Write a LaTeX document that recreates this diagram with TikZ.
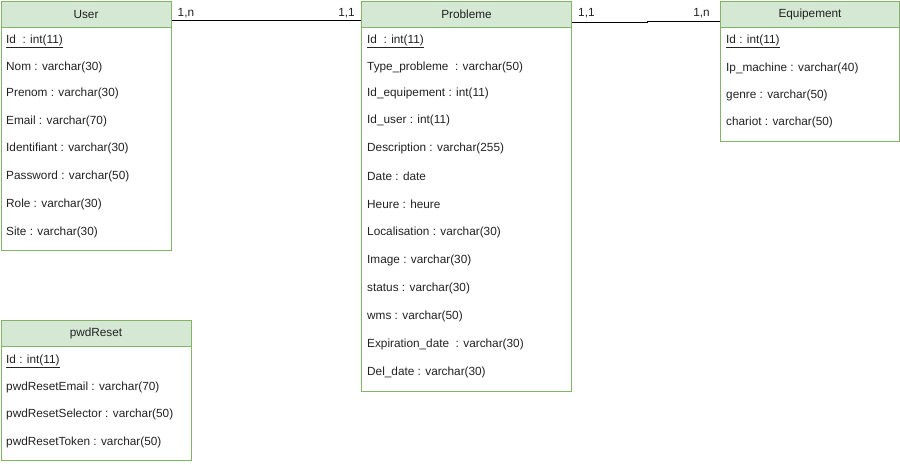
\documentclass[tikz,border=0pt]{standalone}
\usepackage{fontspec}
\setmainfont{Liberation Sans}
\usetikzlibrary{positioning,calc}
\definecolor{headgreen}{HTML}{D5E8D4}
\definecolor{linegreen}{HTML}{82B366}
\definecolor{textgrey}{HTML}{222222}

\tikzset{
  tablebox/.style={draw=linegreen, line width=1pt, fill=white, anchor=north west, inner sep=0pt},
  tablehead/.style={draw=linegreen, line width=1pt, fill=headgreen, anchor=north west,
    inner sep=0pt, minimum height=26pt, text=textgrey, font=\fontsize{11.8}{14}\selectfont},
  field/.style={anchor=west, inner sep=0pt, yshift=-1.5pt, text=textgrey,
    font=\fontsize{11.8}{14}\selectfont},
  card/.style={inner sep=0pt, text=textgrey, font=\fontsize{11.8}{14}\selectfont},
  link/.style={draw=black, line width=1pt},
}

\begin{document}
\begin{tikzpicture}[x=1pt,y=-1pt]
  \useasboundingbox (0,0) rectangle (900,464);

  % User
  \node[tablebox, minimum width=170pt, minimum height=249pt] (user) at (0.5,0.5) {};
  \node[tablehead, minimum width=170pt] (userhead) at (0.5,0.5) {User};
  \node[field] (userid) at (6,40) {\underline{Id~~: int(11)}};
  \foreach \txt/\yy [count=\i] in {Nom : varchar(30)/66, Prenom : varchar(30)/92,
      Email : varchar(70)/120, Identifiant : varchar(30)/147, Password : varchar(50)/175,
      Role : varchar(30)/203, Site : varchar(30)/231}
    \node[field] (userf\i) at (6,\yy) {\txt};

  % Probleme
  \node[tablebox, minimum width=210pt, minimum height=390pt] (prob) at (361,0.5) {};
  \node[tablehead, minimum width=210pt] (probhead) at (361,0.5) {Probleme};
  \node[field] (probid) at (367,40) {\underline{Id~~: int(11)}};
  \foreach \txt/\yy [count=\i] in {Type\_probleme~~: varchar(50)/66, Id\_equipement : int(11)/92,
      Id\_user : int(11)/119, Description : varchar(255)/147, Date : date/175,
      Heure : heure/203, Localisation : varchar(30)/231, Image : varchar(30)/259,
      status : varchar(30)/287, wms : varchar(50)/315, Expiration\_date~~: varchar(30)/343,
      Del\_date : varchar(30)/371}
    \node[field] (probf\i) at (367,\yy) {\txt};

  % Equipement
  \node[tablebox, minimum width=179pt, minimum height=140pt] (equip) at (720,0.5) {};
  \node[tablehead, minimum width=179pt] (equiphead) at (720,0.5) {Equipement};
  \node[field] (equipid) at (726,40) {\underline{Id : int(11)}};
  \foreach \txt/\yy [count=\i] in {Ip\_machine : varchar(40)/67, genre : varchar(50)/94,
      chariot : varchar(50)/121}
    \node[field] (equipf\i) at (726,\yy) {\txt};

  % pwdReset
  \node[tablebox, minimum width=190pt, minimum height=140pt] (pwd) at (0.5,320) {};
  \node[tablehead, minimum width=190pt] (pwdhead) at (0.5,320) {pwdReset};
  \node[field] (pwdid) at (6,360) {\underline{Id : int(11)}};
  \foreach \txt/\yy [count=\i] in {pwdResetEmail : varchar(70)/386,
      pwdResetSelector : varchar(50)/413, pwdResetToken : varchar(50)/441}
    \node[field] (pwdf\i) at (6,\yy) {\txt};

  % links
  \draw[link] ([yshift=-20pt]user.north east) -- ([yshift=-20pt]prob.north west);
  \node[card, anchor=base west] (c1) at ([xshift=6pt,yshift=-16pt]user.north east) {1,n};
  \node[card, anchor=base east] (c2) at ([xshift=-6pt,yshift=-16pt]prob.north west) {1,1};

  \draw[link] ([yshift=-22pt]prob.north east) -- ++(75,0) |- ([yshift=-21pt]equip.north west);
  \node[card, anchor=base west] (c3) at ([xshift=6pt,yshift=-16pt]prob.north east) {1,1};
  \node[card, anchor=base east] (c4) at ([xshift=-10pt,yshift=-16pt]equip.north west) {1,n};
\end{tikzpicture}
\end{document}
